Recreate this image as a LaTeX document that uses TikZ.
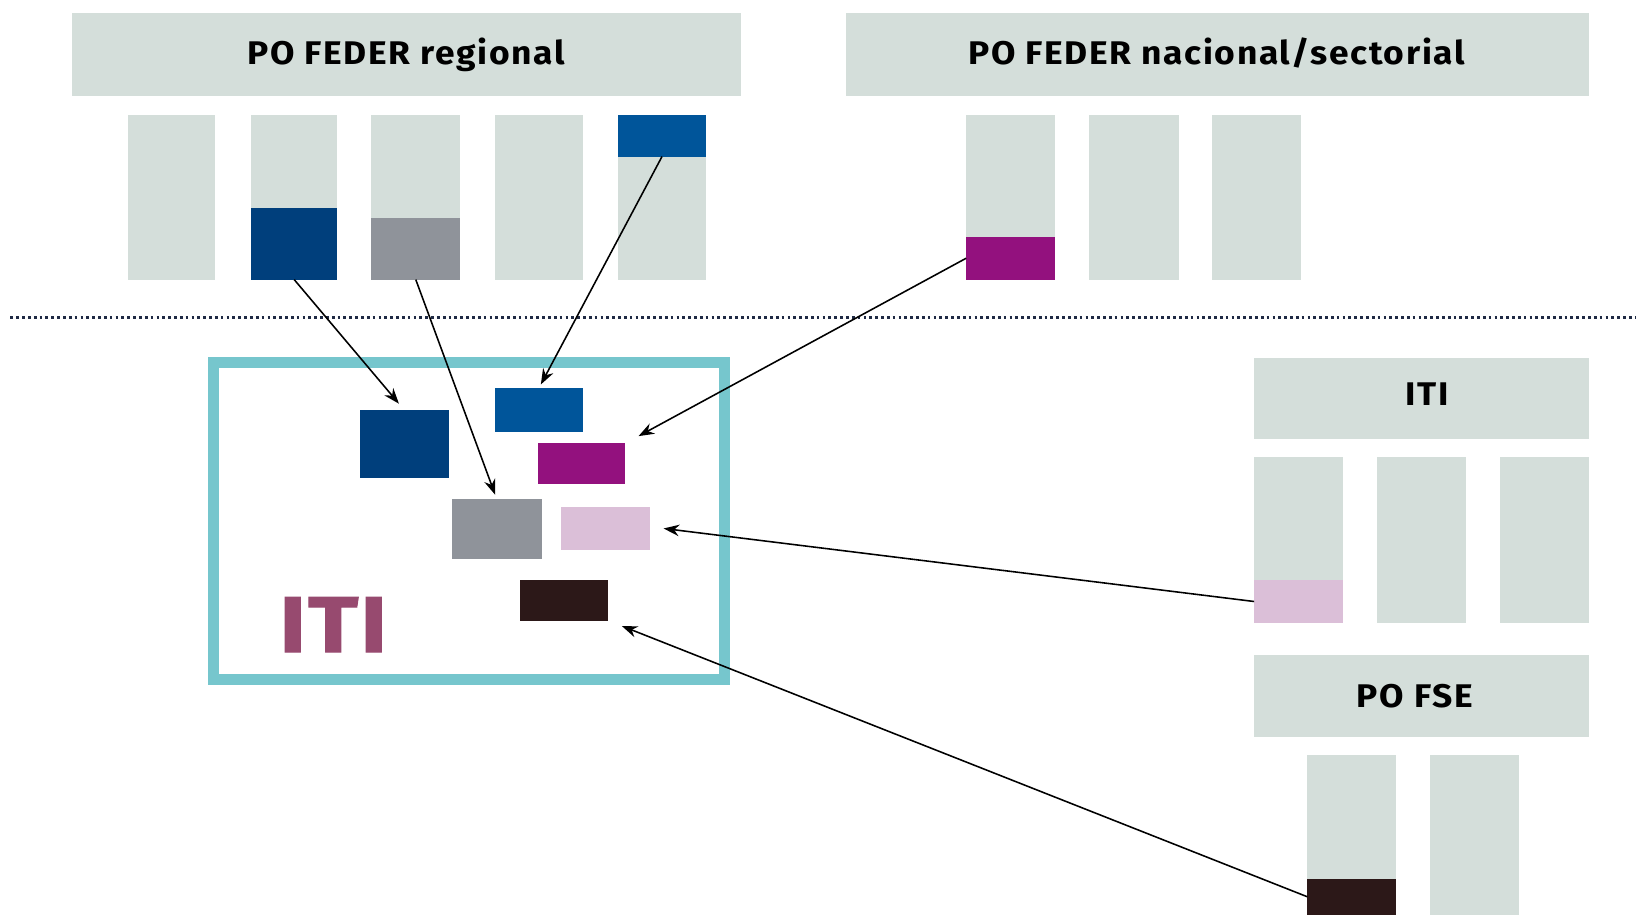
\documentclass[tikz,border=0pt]{standalone}
\usepackage{fontspec}
\setmainfont{Fira Sans}
\newfontfamily\widesans[FakeStretch=1.08, LetterSpace=5]{Fira Sans}
\newfontfamily\widebig[FakeStretch=1.18, LetterSpace=2, FakeBold=1.2]{Fira Sans}
\usetikzlibrary{fit,arrows.meta}
\definecolor{lightg}{HTML}{D4DEDA}
\definecolor{dblue}{HTML}{003F7C}
\definecolor{mblue}{HTML}{00559A}
\definecolor{greyb}{HTML}{8F939A}
\definecolor{purp}{HTML}{93117E}
\definecolor{pinkb}{HTML}{DBBFD8}
\definecolor{dbrown}{HTML}{2C1818}
\definecolor{tealb}{HTML}{76C6CD}
\definecolor{maroonb}{HTML}{974A6F}
\definecolor{dotc}{HTML}{1F2A44}
\newcommand\rbox[6]{\node[#1, fit={(#3,#4) (#5,#6)}] (#2) {};}
\begin{document}
\begin{tikzpicture}[x=0.5pt,y=-0.5pt,
  blk/.style={inner sep=0pt, outer sep=0pt, draw=none},
  lg/.style={blk, fill=lightg},
  btext/.style={font=\widesans\bfseries\fontsize{15.7}{18}\selectfont, text=black, inner sep=0pt, anchor=base},
  arr/.style={-{Stealth[length=7.5pt,width=5.5pt]}, line width=0.75pt, black}]
\useasboundingbox (0,0) rectangle (1568,877);

% top banners
\rbox{lg}{b1}{69}{12}{710}{92}
\node[btext] (b1t) at (389,62) {PO FEDER regional};
\rbox{lg}{b2}{811}{12}{1523}{92}
\node[btext] (b2t) at (1166,62) {PO FEDER nacional/sectorial};

% regional columns
\rbox{lg}{r1}{123}{110}{206}{268}
\rbox{lg}{r2}{241}{110}{323}{268}
\rbox{blk,fill=dblue}{r2b}{241}{199}{323}{268}
\rbox{lg}{r3}{356}{110}{441}{268}
\rbox{blk,fill=greyb}{r3b}{356}{209}{441}{268}
\rbox{lg}{r4}{474}{110}{559}{268}
\rbox{lg}{r5}{592}{110}{677}{268}
\rbox{blk,fill=mblue}{r5b}{592}{110}{677}{150}

% national columns
\rbox{lg}{n1}{926}{110}{1011}{268}
\rbox{blk,fill=purp}{n1b}{926}{227}{1011}{268}
\rbox{lg}{n2}{1044}{110}{1130}{268}
\rbox{lg}{n3}{1162}{110}{1247}{268}

% dotted separator
\coordinate (dl) at (10,304);
\coordinate (dr) at (1568,304);
\draw[dotc, line width=1.3pt, dash pattern=on 1.3pt off 1.5pt] (dl) -- (dr);

% ITI frame
\node[blk, draw=tealb, line width=5.5pt, fit={(204.5,347.5) (694.5,651.5)}] (frame) {};
\node[font=\widebig\bfseries\fontsize{38}{40}\selectfont, text=maroonb, inner sep=0pt, anchor=base west] (itibig) at (267,625) {ITI};

% inner blocks
\rbox{blk,fill=dblue}{i1}{345}{393}{430}{458}
\rbox{blk,fill=mblue}{i2}{474}{372}{559}{414}
\rbox{blk,fill=purp}{i3}{516}{425}{599}{464}
\rbox{blk,fill=greyb}{i4}{433}{478}{519}{536}
\rbox{blk,fill=pinkb}{i5}{538}{486}{623}{527}
\rbox{blk,fill=dbrown}{i6}{498}{556}{583}{595}

% ITI (right)
\rbox{lg}{tb}{1202}{343}{1523}{421}
\node[btext] (tbt) at (1368,389) {ITI};
\rbox{lg}{t1}{1202}{438}{1287}{597}
\rbox{blk,fill=pinkb}{t1b}{1202}{556}{1287}{597}
\rbox{lg}{t2}{1320}{438}{1405}{597}
\rbox{lg}{t3}{1438}{438}{1523}{597}

% PO FSE
\rbox{lg}{fb}{1202}{628}{1523}{706}
\node[btext] (fbt) at (1356,678) {PO FSE};
\rbox{lg}{f1}{1253}{724}{1338}{877}
\rbox{blk,fill=dbrown}{f1b}{1253}{842}{1338}{877}
\rbox{lg}{f2}{1371}{724}{1456}{877}

% arrows
\draw[arr, shorten >=4pt] (r2b.south) -- (i1.north);
\draw[arr, shorten >=2pt] (r3b.south) -- (i4.north);
\draw[arr, shorten >=2pt] (r5b.south) -- (i2.north);
\draw[arr] (n1b.west) -- ([shift={(13,-7)}]i3.north east);
\draw[arr] (t1b.west) -- ([xshift=6.5pt]i5.east);
\draw[arr] (f1b.west) -- ([shift={(13,5)}]i6.south east);
\end{tikzpicture}
\end{document}
